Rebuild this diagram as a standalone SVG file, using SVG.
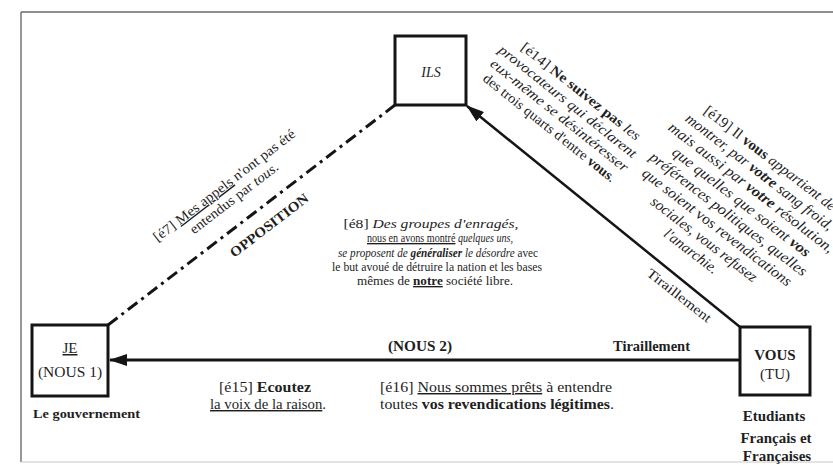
<svg xmlns="http://www.w3.org/2000/svg" width="833" height="465" viewBox="0 0 833 465" font-family="'Liberation Serif', Tinos, 'Times New Roman', 'DejaVu Serif', serif">
<defs>
<style>
text{font-family:"Liberation Serif",Tinos,"Times New Roman","DejaVu Serif",serif;fill:#1e1e1e}
.box{fill:#fff;stroke:#151515;stroke-width:3}
.i{font-style:italic}
.b{font-weight:bold}
.u{text-decoration:underline}
.c{text-anchor:middle}
.conn{stroke:#151515;fill:none}
</style>
<marker id="ah" markerWidth="18" markerHeight="12" refX="17" refY="6" orient="auto" markerUnits="userSpaceOnUse"><path d="M0,0 L18,6 L0,12 z" fill="#151515"/></marker>
</defs>
<rect width="833" height="465" fill="#fff"/>
<g id="frame" stroke="#6a6a6a" fill="none">
<line x1="21" y1="12" x2="833" y2="12" stroke-width="1.6"/>
<line x1="21" y1="12" x2="21" y2="462" stroke-width="1.4"/>
<line x1="21" y1="462" x2="833" y2="462" stroke="#c8c8c8" stroke-width="1"/>
</g>
<g id="connectors">
<line class="conn" x1="108" y1="325" x2="395" y2="105" stroke-width="3" stroke-dasharray="12 5 3 5"/>
<line class="conn" x1="740" y1="327" x2="467" y2="106" stroke-width="2.5" marker-end="url(#ah)"/>
<line class="conn" x1="740" y1="360" x2="110" y2="360" stroke-width="3" marker-end="url(#ah)"/>
</g>
<g id="node-ils">
<rect class="box" x="395" y="36" width="71" height="69"/>
<text class="c i" x="431" y="77" font-size="14">ILS</text>
</g>
<g id="node-je">
<rect class="box" x="32" y="325" width="76" height="71"/>
<text class="c u" x="70" y="353" font-size="15">JE</text>
<text class="c" x="70" y="377" font-size="15.5">(NOUS 1)</text>
<text class="b" x="33" y="418" font-size="13.5" textLength="107" lengthAdjust="spacingAndGlyphs">Le gouvernement</text>
</g>
<g id="node-vous">
<rect class="box" x="740" y="327" width="70" height="68"/>
<text class="c b" x="775" y="360" font-size="15">VOUS</text>
<text class="c" x="775" y="379" font-size="15">(TU)</text>
<text class="c b" x="774" y="421" font-size="15">Etudiants</text>
<text class="c b" x="776" y="443" font-size="15">Français et</text>
<text class="c b" x="777" y="461" font-size="15">Françaises</text>
</g>
<g id="label-e7" transform="translate(227,189) rotate(-37.5)">
<text class="c" x="0" y="0" font-size="14" textLength="175" lengthAdjust="spacingAndGlyphs">[é7] <tspan class="u">Mes appels</tspan> n'ont pas été</text>
<text class="c" x="0" y="16" font-size="14" textLength="108" lengthAdjust="spacingAndGlyphs">entendus par <tspan class="i">tous</tspan>.</text>
</g>
<g id="label-opposition" transform="translate(272,229) rotate(-37.5)">
<text class="c b" x="0" y="0" font-size="14" textLength="95" lengthAdjust="spacingAndGlyphs">OPPOSITION</text>
</g>
<g id="label-e8">
<text class="c" x="431" y="228" font-size="13.5" textLength="175" lengthAdjust="spacingAndGlyphs">[é8] <tspan class="i">Des groupes d'enragés,</tspan></text>
<text class="c" x="440" y="242" font-size="13.5" textLength="146" lengthAdjust="spacingAndGlyphs"><tspan class="u">nous en avons montré</tspan> <tspan class="i">quelques uns,</tspan></text>
<text class="c" x="438" y="256.5" font-size="13.5" textLength="200" lengthAdjust="spacingAndGlyphs"><tspan class="i">se proposent de </tspan><tspan class="i b">généraliser</tspan><tspan class="i"> le désordre</tspan> avec</text>
<text class="c" x="437" y="270.5" font-size="13.5" textLength="210" lengthAdjust="spacingAndGlyphs">le but avoué de détruire la nation et les bases</text>
<text class="c" x="435" y="285" font-size="13.5" textLength="156" lengthAdjust="spacingAndGlyphs">mêmes de <tspan class="b u">notre</tspan> société libre.</text>
</g>
<g id="label-e14" transform="translate(578,95) rotate(38.5)">
<text class="c" x="0" y="0" font-size="14" textLength="148" lengthAdjust="spacingAndGlyphs">[é14] <tspan class="b">Ne suivez pas</tspan> <tspan class="i">les</tspan></text>
<text class="c i" x="-4" y="16" font-size="14" textLength="172" lengthAdjust="spacingAndGlyphs">provocateurs qui déclarent</text>
<text class="c i" x="-2" y="32" font-size="14" textLength="172" lengthAdjust="spacingAndGlyphs">eux-même se désintéresser</text>
<text class="c" x="-2" y="48" font-size="14" textLength="165" lengthAdjust="spacingAndGlyphs">des trois quarts d'entre <tspan class="b">vous</tspan>.</text>
</g>
<g id="label-e19" transform="translate(767,162) rotate(37.5)">
<text class="c" x="0" y="0" font-size="15" textLength="162" lengthAdjust="spacingAndGlyphs">[é19] Il <tspan class="b">vous</tspan> <tspan class="i">appartient de</tspan></text>
<text class="c i" x="0" y="17.4" font-size="15" textLength="182" lengthAdjust="spacingAndGlyphs">montrer, par <tspan class="b">votre</tspan> sang froid,</text>
<text class="c i" x="3" y="34.8" font-size="15" textLength="204" lengthAdjust="spacingAndGlyphs">mais aussi par <tspan class="b">votre</tspan> résolution,</text>
<text class="c i" x="4" y="52.2" font-size="15" textLength="170" lengthAdjust="spacingAndGlyphs">que quelles que soient <tspan class="b">vos</tspan></text>
<text class="c i" x="1" y="69.6" font-size="15" textLength="194" lengthAdjust="spacingAndGlyphs">préférences politiques, quelles</text>
<text class="c i" x="0" y="87" font-size="15" textLength="184" lengthAdjust="spacingAndGlyphs">que soient <tspan font-style="normal">vos</tspan> revendications</text>
<text class="c i" x="-3" y="104.4" font-size="15" textLength="130" lengthAdjust="spacingAndGlyphs">sociales, vous refusez</text>
<text class="c i" x="-6" y="121.8" font-size="15" textLength="64" lengthAdjust="spacingAndGlyphs">l'anarchie.</text>
</g>
<g id="label-tiraillement-diag" transform="translate(676.5,299) rotate(38)">
<text class="c" x="0" y="0" font-size="13.5" textLength="78" lengthAdjust="spacingAndGlyphs">Tiraillement</text>
</g>
<g id="label-nous2">
<text class="c b" x="420" y="351" font-size="14" textLength="64" lengthAdjust="spacingAndGlyphs">(NOUS 2)</text>
</g>
<g id="label-tiraillement-h">
<text class="b" x="613" y="351" font-size="14" textLength="77" lengthAdjust="spacingAndGlyphs" fill="#333">Tiraillement</text>
</g>
<g id="label-e15">
<text class="c" x="265" y="392" font-size="14.5" textLength="92" lengthAdjust="spacingAndGlyphs">[é15] <tspan class="b">Ecoutez</tspan></text>
<text class="c" x="268" y="409" font-size="14.5" textLength="116" lengthAdjust="spacingAndGlyphs"><tspan class="u">la voix de la raison</tspan>.</text>
</g>
<g id="label-e16">
<text x="380" y="392" font-size="14.5" textLength="232" lengthAdjust="spacingAndGlyphs">[é16] <tspan class="u">Nous sommes prêts</tspan> à entendre</text>
<text x="380" y="409" font-size="14.5" textLength="234" lengthAdjust="spacingAndGlyphs">toutes <tspan class="b">vos revendications légitimes</tspan>.</text>
</g>
</svg>
